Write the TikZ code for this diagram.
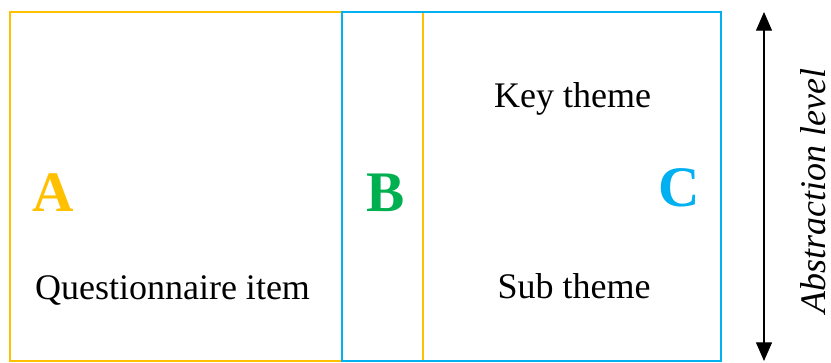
\documentclass[tikz,border=0pt]{standalone}
\usepackage{fontspec}
\setmainfont{Liberation Serif}
\newfontfamily\timesfont{Liberation Serif}
\usepackage{xcolor}
\usepackage{tikz}
\usetikzlibrary{arrows.meta,positioning}
\definecolor{ThemeGold}{HTML}{FFC000}
\definecolor{ThemeBlue}{HTML}{00B0F0}
\definecolor{ThemeGreen}{HTML}{00B050}

\begin{document}
\begin{tikzpicture}[x=0.75pt,y=-0.75pt,
    label text/.style={anchor=base,inner sep=0pt,font=\timesfont\fontsize{27}{32}\selectfont},
    part letter/.style={anchor=base,inner sep=0pt,font=\timesfont\fontsize{43}{50}\selectfont\bfseries}]
        \useasboundingbox (0,0) rectangle (831,363);
        % item and code boxes
        \draw[ThemeGold,line width=1.6pt] (10,12) rectangle (423,361);
        \draw[ThemeBlue,line width=1.6pt] (342,12) rectangle (721,361);
        \node[part letter,ThemeGold]  (letA) at (53,212) {A};
        \node[part letter,ThemeGreen] (letB) at (385.5,212) {B};
        \node[part letter,ThemeBlue]  (letC) at (679,207) {C};
        \node[label text] (item) at (172.5,299) {Questionnaire item};
        \node[label text] (key)  at (572.5,108) {Key theme};
        \node[label text] (sub)  at (574,298) {Sub theme};
        % abstraction axis
        \coordinate (top) at (764,12);
        \coordinate (bot) at (764,361);
        \draw[{Triangle[length=14pt,width=12pt]}-{Triangle[length=14pt,width=12pt]},line width=0.8pt]
          (bot) -- (top);
        \node[label text,rotate=90,font=\timesfont\fontsize{27}{32}\selectfont\itshape]
          (axis) at (825,191) {Abstraction level};
      \end{tikzpicture}
\end{document}
